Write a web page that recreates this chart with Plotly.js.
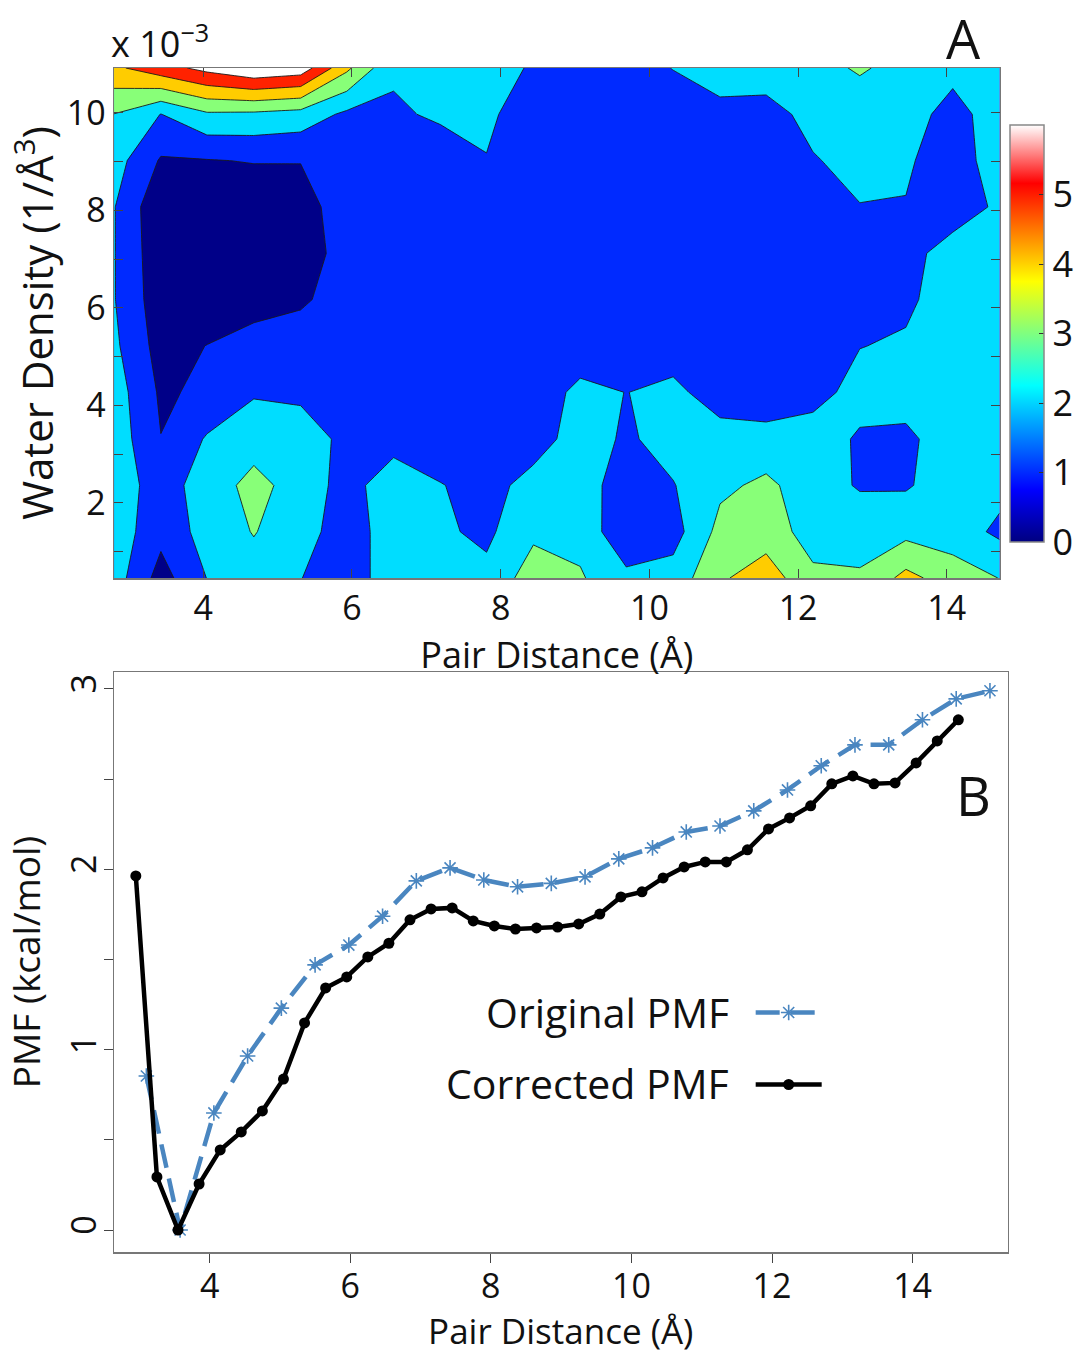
<!DOCTYPE html>
<html>
<head>
<meta charset="utf-8">
<script src="https://cdn.plot.ly/plotly-3.0.1.min.js"></script>
<style>
html,body{margin:0;padding:0;background:#ffffff;}
#chart{width:1079px;height:1354px;}
</style>
</head>
<body>
<div id="chart"></div>
<script>
// ---------- Panel A : contour map (free energy vs pair distance & water density) ----------
const gridDistance = [2.80, 3.43, 4.05, 4.68, 5.31, 5.93, 6.56, 7.19, 7.81, 8.44,
                      9.07, 9.69, 10.32, 10.95, 11.57, 12.20, 12.83, 13.45, 14.08, 14.71];
const gridDensity = [0.46, 1.41, 2.36, 3.31, 4.27, 5.22, 6.17, 7.12, 8.07, 9.02, 9.97, 10.92]; // x 10^-3 1/Å^3

const zRow00 = [2.5, 0.6, 2.02, 2.6, 2.02, 1.5, 2.5, 2.5, 2.25, 3.5, 3.1, 2.25, 2.4, 3.85, 4.55, 3.2, 3.1, 4.3, 3.5, 2.98];
const zRow01 = [2.6, 1.3, 2.4, 3.05, 2.4, 1.5, 2.5, 2.15, 1.8, 2.8, 2.7, 1.2, 1.6, 3.3, 3.5, 2.6, 2.65, 2.7, 2.5, 1.8];
const zRow02 = [2.6, 1.5, 2.5, 3.3, 2.6, 1.6, 2.6, 2.05, 1.6, 2.4, 2.45, 1.5, 1.95, 2.8, 3.2, 2.5, 1.9, 1.9, 2.5, 2.3];
const zRow03 = [2.6, 1.02, 2.1, 2.6, 2.5, 1.75, 1.6, 1.3, 1.25, 1.5, 2.5, 1.85, 2.4, 2.5, 2.4, 2.4, 1.9, 1.8, 2.5, 2.5];
const zRow04 = [2.5, 0.85, 1.2, 1.9, 1.8, 1.5, 1.4, 1.3, 1.25, 1.2, 2.35, 1.98, 2.3, 1.4, 1.3, 1.7, 2.3, 2.4, 2.5, 2.4];
const zRow05 = [2.2, 0.6, 1.02, 1.3, 1.35, 1.4, 1.4, 1.3, 1.25, 1.2, 1.2, 1.2, 1.4, 1.2, 1.3, 1.4, 1.98, 2.1, 2.5, 2.5];
const zRow06 = [2.05, 0.4, 0.3, 0.7, 0.9, 1.3, 1.4, 1.3, 1.25, 1.2, 1.2, 1.2, 1.2, 1.2, 1.25, 1.3, 1.5, 1.85, 2.4, 2.5];
const zRow07 = [2.05, 0.3, 0.2, 0.3, 0.5, 1.4, 1.5, 1.4, 1.3, 1.3, 1.2, 1.2, 1.2, 1.2, 1.2, 1.3, 1.4, 1.6, 2.5, 2.5];
const zRow08 = [2.05, 0.2, 0.3, 0.3, 0.6, 1.5, 1.6, 1.5, 1.4, 1.3, 1.3, 1.3, 1.3, 1.3, 1.3, 1.4, 1.97, 1.95, 1.4, 2.2];
const zRow09 = [2.43, 0.9, 0.95, 1.05, 1.03, 1.3, 1.5, 1.65, 1.95, 1.4, 1.3, 1.3, 1.3, 1.35, 1.5, 1.93, 2.3, 2.15, 1.4, 2.6];
const zRow10 = [2.98, 1.98, 2.85, 2.8, 2.6, 1.8, 1.9, 2.1, 2.25, 1.29, 1.5, 1.5, 1.6, 1.82, 1.64, 2.3, 2.5, 2.6, 1.5, 2.7];
const zRow11 = [4.8, 5.6, 6.3, 6.9, 6.6, 4.21, 2.1, 2.3, 2.2, 1.95, 1.6, 1.7, 2.02, 2.3, 2.5, 2.7, 3.1, 2.7, 2.4, 2.6];

const densityTickVals = [2, 4, 6, 8, 10];
const densityTickText = ['2', '4', '6', '8', '10'];
const distanceTickVals = [4, 6, 8, 10, 12, 14];
const colorbarTickVals = [0, 1, 2, 3, 4, 5];

// ---------- Panel B : PMF curves ----------
const pmfOriginalX = [3.10, 3.58, 4.06, 4.54, 5.02, 5.50, 5.98, 6.46, 6.94, 7.42, 7.90, 8.38, 8.86,
                      9.34, 9.82, 10.30, 10.78, 11.26, 11.74, 12.22, 12.70, 13.18, 13.66, 14.14, 14.62, 15.10];
const pmfOriginal = [0.854, 0.0, 0.649, 0.965, 1.23, 1.47, 1.58, 1.74, 1.936, 2.008, 1.941, 1.903, 1.922,
                     1.958, 2.058, 2.119, 2.207, 2.24, 2.324, 2.44, 2.574, 2.69, 2.69, 2.829, 2.945, 2.99];

const pmfCorrectedX = [2.95, 3.25, 3.55, 3.85, 4.15, 4.45, 4.75, 5.05, 5.35, 5.65, 5.95, 6.25, 6.55, 6.85,
                       7.15, 7.45, 7.75, 8.05, 8.35, 8.65, 8.95, 9.25, 9.55, 9.85, 10.15, 10.45, 10.75, 11.05,
                       11.35, 11.65, 11.95, 12.25, 12.55, 12.85, 13.15, 13.45, 13.75, 14.05, 14.35, 14.65];
const pmfCorrected = [1.963, 0.294, 0.0, 0.255, 0.444, 0.544, 0.66, 0.837, 1.148, 1.342, 1.403, 1.514, 1.59, 1.72,
                      1.78, 1.786, 1.714, 1.686, 1.669, 1.675, 1.68, 1.697, 1.752, 1.847, 1.875, 1.952, 2.013, 2.041,
                      2.041, 2.108, 2.224, 2.285, 2.352, 2.474, 2.518, 2.474, 2.479, 2.59, 2.712, 2.829];

const pmfTickVals = [0, 1, 2, 3];
const seriesNames = ['Original PMF', 'Corrected PMF'];

// ---------- styling ----------
const FONT = "'Open Sans', sans-serif";
const jetWhite = [[0, '#000080'], [0.125, '#0000FF'], [0.375, '#00FFFF'], [0.625, '#FFFF00'], [0.86, '#FF0000'], [1, '#FFFFFF']];
const bandColors = ['#000088', '#002AFF', '#00DDFF', '#88FF78', '#FFCC00', '#FF2200', '#FFFFFF'];
const bandScale = [];
bandColors.forEach(function (c, i) {
  const lo = i === 0 ? 0 : (i - 0.5) / 6;
  const hi = i === 6 ? 1 : (i + 0.5) / 6;
  bandScale.push([lo, c]); bandScale.push([hi, c]);
});

const zGrid = [zRow00, zRow01, zRow02, zRow03, zRow04, zRow05, zRow06, zRow07, zRow08, zRow09, zRow10, zRow11];

const traces = [
  {
    type: 'contour', x: gridDistance, y: gridDensity, z: zGrid,
    xaxis: 'x', yaxis: 'y',
    contours: {start: 1, end: 6, size: 1, coloring: 'fill', showlines: true},
    line: {color: '#1a1a1a', width: 0.9, smoothing: 0},
    colorscale: bandScale, showscale: false, hoverinfo: 'skip', showlegend: false
  },
  {
    type: 'scatter', x: [null], y: [null], mode: 'markers', xaxis: 'x', yaxis: 'y',
    showlegend: false, hoverinfo: 'skip',
    marker: {
      color: [0], cmin: 0, cmax: 6, colorscale: jetWhite, showscale: true,
      colorbar: {
        x: 1018 / 1079, xanchor: 'left', xref: 'paper', xpad: 0,
        y: 1 - 333.5 / 1354, yanchor: 'middle', ypad: 0,
        len: 417, lenmode: 'pixels', thickness: 34, thicknessmode: 'pixels',
        outlinecolor: '#888', outlinewidth: 1.5,
        tickvals: colorbarTickVals, ticks: 'inside', ticklen: 5, tickcolor: '#333',
        tickfont: {family: FONT, size: 36, color: '#111'}
      }
    }
  },
  {
    type: 'scatter', x: pmfOriginalX, y: pmfOriginal, xaxis: 'x2', yaxis: 'y2',
    mode: 'lines+markers', name: '', legendgroup: 'a',
    line: {color: '#4A86C0', width: 4.5, dash: '24px,11px'},
    marker: {symbol: 'asterisk-open', size: 13, line: {color: '#7FB0E0', width: 1.6}}
  },
  {
    type: 'scatter', x: pmfCorrectedX, y: pmfCorrected, xaxis: 'x2', yaxis: 'y2',
    mode: 'lines+markers', name: '', legendgroup: 'b',
    line: {color: '#000000', width: 4.5},
    marker: {symbol: 'circle', size: 11, color: '#000000'}
  }
];

const axisFont = {family: FONT, size: 34, color: '#111'};
const xTitleFont = {family: FONT, size: 36, color: '#111'};

const layout = {
  width: 1079, height: 1354,
  margin: {l: 0, r: 0, t: 0, b: 0},
  paper_bgcolor: '#ffffff', plot_bgcolor: '#ffffff',
  font: {family: FONT, color: '#111'},
  showlegend: true,
  legend: {
    x: 757 / 1079, xanchor: 'left', y: 1 - 980 / 1354, yanchor: 'top',
    font: {family: FONT, size: 40}, itemwidth: 66, tracegroupgap: 17,
    bgcolor: 'rgba(0,0,0,0)', borderwidth: 0
  },
  xaxis: {
    domain: [115 / 1079, 1008 / 1079], anchor: 'y', range: [2.8, 14.71],
    tickvals: distanceTickVals, ticks: 'inside', ticklen: 9, tickcolor: '#444',
    showline: true, linecolor: '#777', linewidth: 1.5, mirror: 'ticks',
    showgrid: false, zeroline: false, tickfont: axisFont,
    title: {text: 'Pair Distance (Å)', font: xTitleFont, standoff: 0}
  },
  yaxis: {
    domain: [1 - 578 / 1354, 1 - 68 / 1354], anchor: 'x', range: [0.46, 10.92],
    tickvals: densityTickVals, ticktext: densityTickText, ticks: 'inside', ticklen: 9, tickcolor: '#444',
    minor: {dtick: 1, tick0: 0, ticks: 'inside', ticklen: 9, tickcolor: '#444'},
    showline: true, linecolor: '#777', linewidth: 1.5, mirror: 'ticks',
    showgrid: false, zeroline: false, tickfont: axisFont,
    title: {text: 'Water Density (1/Å<sup>3</sup>)', font: {family: FONT, size: 42, color: '#111'}, standoff: 0}
  },
  xaxis2: {
    domain: [115 / 1079, 1016 / 1079], anchor: 'y2', range: [2.64, 15.35],
    tickvals: distanceTickVals, ticks: 'outside', ticklen: 9, tickcolor: '#444',
    ticklabelstandoff: -5,
    showline: true, linecolor: '#777', linewidth: 1.5, mirror: true,
    showgrid: false, zeroline: false, tickfont: axisFont,
    title: {text: 'Pair Distance (Å)', font: {family: FONT, size: 35, color: '#111'}, standoff: 9}
  },
  yaxis2: {
    domain: [1 - 1252 / 1354, 1 - 672 / 1354], anchor: 'x2', range: [-0.122, 3.094],
    tickvals: pmfTickVals, ticks: 'outside', ticklen: 9, tickcolor: '#444', tickangle: -90,
    ticklabelstandoff: -6,
    minor: {dtick: 0.5, tick0: 0, ticks: 'outside', ticklen: 9, tickcolor: '#444'},
    showline: true, linecolor: '#777', linewidth: 1.5, mirror: true,
    showgrid: false, zeroline: false, tickfont: axisFont,
    title: {text: 'PMF (kcal/mol)', font: {family: FONT, size: 37, color: '#111'}, standoff: 18}
  },
  annotations: [
    {xref: 'paper', yref: 'paper', x: 110 / 1079, y: 1 - 70 / 1354, xanchor: 'left', yanchor: 'bottom',
     text: 'x 10<sup>−3</sup>', showarrow: false, font: {family: FONT, size: 36, color: '#111'}},
    {xref: 'paper', yref: 'paper', x: 972 / 1079, y: 1 - 38 / 1354, xanchor: 'center', yanchor: 'middle',
     text: 'A', showarrow: false, font: {family: FONT, size: 54, color: '#111'}},
    {xref: 'paper', yref: 'paper', x: 982 / 1079, y: 1 - 795 / 1354, xanchor: 'center', yanchor: 'middle',
     text: 'B', showarrow: false, font: {family: FONT, size: 54, color: '#111'}},
    {xref: 'paper', yref: 'paper', x: 737 / 1079, y: 1 - 1012 / 1354, xanchor: 'right', yanchor: 'middle',
     text: seriesNames[0], showarrow: false, font: {family: FONT, size: 41, color: '#111'}},
    {xref: 'paper', yref: 'paper', x: 737 / 1079, y: 1 - 1083 / 1354, xanchor: 'right', yanchor: 'middle',
     text: seriesNames[1], showarrow: false, font: {family: FONT, size: 41, color: '#111'}}
  ]
};

Plotly.newPlot('chart', traces, layout, {displayModeBar: false, staticPlot: true});
</script>
</body>
</html>
